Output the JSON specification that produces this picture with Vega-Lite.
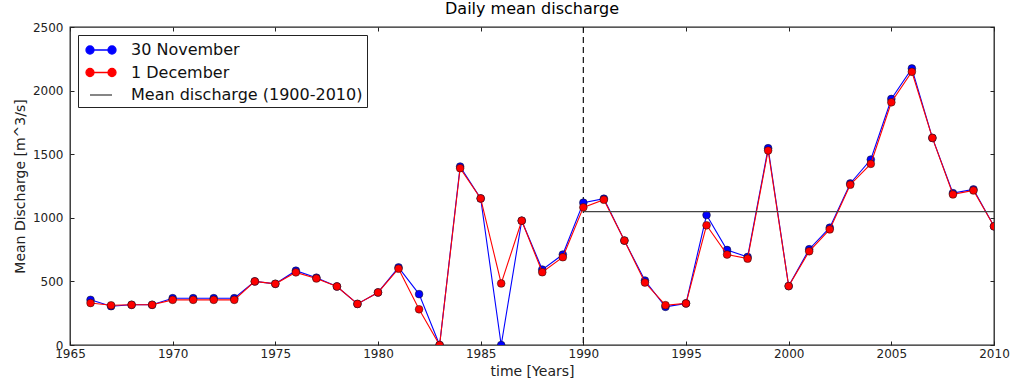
{
  "$schema": "https://vega.github.io/schema/vega-lite/v6.json",
  "width": 924,
  "height": 318,
  "autosize": {"type": "none"},
  "padding": {"left": 70, "top": 27, "right": 20, "bottom": 42},
  "background": "white",
  "title": {
    "text": "Daily mean discharge",
    "font": "DejaVu Sans",
    "fontSize": 16,
    "fontWeight": "normal",
    "color": "black",
    "anchor": "middle",
    "frame": "group",
    "offset": 4
  },
  "config": {
    "font": "DejaVu Sans",
    "view": {"stroke": "#222222", "strokeWidth": 1.3},
    "axis": {
      "grid": false,
      "domain": false,
      "labelFont": "DejaVu Sans",
      "labelFontSize": 12,
      "labelColor": "#222222",
      "labelFlush": false,
      "labelOverlap": false,
      "labelBound": false,
      "tickColor": "#222222",
      "tickSize": -4,
      "tickWidth": 1,
      "titleFont": "DejaVu Sans",
      "titleFontSize": 14,
      "titleFontWeight": "normal",
      "titleColor": "#222222"
    }
  },
  "datasets": {
    "flow": [
      {"year": 1966, "series": "30 November", "q": 355}, {"year": 1966, "series": "1 December", "q": 330},
      {"year": 1967, "series": "30 November", "q": 305}, {"year": 1967, "series": "1 December", "q": 312},
      {"year": 1968, "series": "30 November", "q": 316}, {"year": 1968, "series": "1 December", "q": 316},
      {"year": 1969, "series": "30 November", "q": 316}, {"year": 1969, "series": "1 December", "q": 316},
      {"year": 1970, "series": "30 November", "q": 368}, {"year": 1970, "series": "1 December", "q": 355},
      {"year": 1971, "series": "30 November", "q": 368}, {"year": 1971, "series": "1 December", "q": 355},
      {"year": 1972, "series": "30 November", "q": 368}, {"year": 1972, "series": "1 December", "q": 355},
      {"year": 1973, "series": "30 November", "q": 368}, {"year": 1973, "series": "1 December", "q": 355},
      {"year": 1974, "series": "30 November", "q": 500}, {"year": 1974, "series": "1 December", "q": 500},
      {"year": 1975, "series": "30 November", "q": 481}, {"year": 1975, "series": "1 December", "q": 481},
      {"year": 1976, "series": "30 November", "q": 584}, {"year": 1976, "series": "1 December", "q": 571},
      {"year": 1977, "series": "30 November", "q": 529}, {"year": 1977, "series": "1 December", "q": 523},
      {"year": 1978, "series": "30 November", "q": 460}, {"year": 1978, "series": "1 December", "q": 460},
      {"year": 1979, "series": "30 November", "q": 323}, {"year": 1979, "series": "1 December", "q": 323},
      {"year": 1980, "series": "30 November", "q": 413}, {"year": 1980, "series": "1 December", "q": 413},
      {"year": 1981, "series": "30 November", "q": 610}, {"year": 1981, "series": "1 December", "q": 600},
      {"year": 1982, "series": "30 November", "q": 400}, {"year": 1982, "series": "1 December", "q": 281},
      {"year": 1983, "series": "30 November", "q": 0}, {"year": 1983, "series": "1 December", "q": 0},
      {"year": 1984, "series": "30 November", "q": 1403}, {"year": 1984, "series": "1 December", "q": 1390},
      {"year": 1985, "series": "30 November", "q": 1152}, {"year": 1985, "series": "1 December", "q": 1152},
      {"year": 1986, "series": "30 November", "q": 0}, {"year": 1986, "series": "1 December", "q": 484},
      {"year": 1987, "series": "30 November", "q": 977}, {"year": 1987, "series": "1 December", "q": 977},
      {"year": 1988, "series": "30 November", "q": 593}, {"year": 1988, "series": "1 December", "q": 572},
      {"year": 1989, "series": "30 November", "q": 711}, {"year": 1989, "series": "1 December", "q": 690},
      {"year": 1990, "series": "30 November", "q": 1119}, {"year": 1990, "series": "1 December", "q": 1082},
      {"year": 1991, "series": "30 November", "q": 1150}, {"year": 1991, "series": "1 December", "q": 1142},
      {"year": 1992, "series": "30 November", "q": 821}, {"year": 1992, "series": "1 December", "q": 821},
      {"year": 1993, "series": "30 November", "q": 507}, {"year": 1993, "series": "1 December", "q": 491},
      {"year": 1994, "series": "30 November", "q": 300}, {"year": 1994, "series": "1 December", "q": 313},
      {"year": 1995, "series": "30 November", "q": 327}, {"year": 1995, "series": "1 December", "q": 327},
      {"year": 1996, "series": "30 November", "q": 1022}, {"year": 1996, "series": "1 December", "q": 941},
      {"year": 1997, "series": "30 November", "q": 747}, {"year": 1997, "series": "1 December", "q": 711},
      {"year": 1998, "series": "30 November", "q": 692}, {"year": 1998, "series": "1 December", "q": 679},
      {"year": 1999, "series": "30 November", "q": 1547}, {"year": 1999, "series": "1 December", "q": 1529},
      {"year": 2000, "series": "30 November", "q": 463}, {"year": 2000, "series": "1 December", "q": 463},
      {"year": 2001, "series": "30 November", "q": 753}, {"year": 2001, "series": "1 December", "q": 737},
      {"year": 2002, "series": "30 November", "q": 922}, {"year": 2002, "series": "1 December", "q": 909},
      {"year": 2003, "series": "30 November", "q": 1270}, {"year": 2003, "series": "1 December", "q": 1260},
      {"year": 2004, "series": "30 November", "q": 1458}, {"year": 2004, "series": "1 December", "q": 1424},
      {"year": 2005, "series": "30 November", "q": 1934}, {"year": 2005, "series": "1 December", "q": 1908},
      {"year": 2006, "series": "30 November", "q": 2174}, {"year": 2006, "series": "1 December", "q": 2148},
      {"year": 2007, "series": "30 November", "q": 1628}, {"year": 2007, "series": "1 December", "q": 1628},
      {"year": 2008, "series": "30 November", "q": 1194}, {"year": 2008, "series": "1 December", "q": 1184},
      {"year": 2009, "series": "30 November", "q": 1223}, {"year": 2009, "series": "1 December", "q": 1215},
      {"year": 2010, "series": "30 November", "q": 933}, {"year": 2010, "series": "1 December", "q": 933}
    ],
    "mean": [
      {"year": 1990, "series": "Mean discharge (1900-2010)", "q": 1048},
      {"year": 2010, "series": "Mean discharge (1900-2010)", "q": 1048}
    ]
  },
  "layer": [
    {
      "data": {"values": [{"year": 1990}]},
      "mark": {"type": "rule", "color": "#111111", "strokeWidth": 1.2, "strokeDash": [6, 4]},
      "encoding": {
        "x": {"field": "year", "type": "quantitative", "axis": null}
      }
    },
    {
      "data": {"name": "flow"},
      "transform": [{"filter": "datum.series === '30 November'"}],
      "mark": {
        "type": "line",
        "clip": true,
        "strokeWidth": 1.1,
        "point": {"filled": true, "clip": true, "size": 60, "stroke": "#111111", "strokeWidth": 0.5}
      },
      "encoding": {
        "x": {
          "field": "year",
          "type": "quantitative",
          "scale": {"domain": [1965, 2010], "nice": false, "zero": false},
          "axis": {
            "orient": "bottom",
            "values": [1965, 1970, 1975, 1980, 1985, 1990, 1995, 2000, 2005, 2010],
            "format": "d",
            "labelPadding": 7,
            "title": "time [Years]",
            "titlePadding": 5
          }
        },
        "y": {
          "field": "q",
          "type": "quantitative",
          "scale": {"domain": [0, 2500], "nice": false},
          "axis": {
            "orient": "left",
            "values": [0, 500, 1000, 1500, 2000, 2500],
            "format": "d",
            "labelPadding": 11,
            "title": "Mean Discharge [m^3/s]",
            "titlePadding": 5
          }
        },
        "color": {
          "field": "series",
          "type": "nominal",
          "scale": {
            "domain": ["30 November", "1 December", "Mean discharge (1900-2010)"],
            "range": ["#0000ff", "#ff0000", "#444444"]
          },
          "legend": {
            "title": null,
            "orient": "none",
            "legendX": 8,
            "legendY": 8,
            "direction": "vertical",
            "fillColor": "white",
            "strokeColor": "#222222",
            "padding": 4,
            "cornerRadius": 0,
            "labelFont": "DejaVu Sans",
            "labelFontSize": 16,
            "labelColor": "#111111",
            "labelLimit": 0,
            "labelOffset": 19,
            "symbolSize": 400,
            "symbolOffset": 8,
            "rowPadding": 3.5,
            "encode": {
              "symbols": {
                "update": {
                  "shape": {"signal": "datum.value === 'Mean discharge (1900-2010)' ? 'M-1.1,0H1.1' : 'M-1.1,0H1.1M-1.5,0A0.4,0.4 0 1 0 -0.7,0A0.4,0.4 0 1 0 -1.5,0M0.7,0A0.4,0.4 0 1 0 1.5,0A0.4,0.4 0 1 0 0.7,0'"},
                  "fill": {"signal": "datum.value === 'Mean discharge (1900-2010)' ? 'transparent' : scale('color', datum.value)"},
                  "stroke": {"signal": "scale('color', datum.value)"},
                  "strokeWidth": {"value": 1.3}
                }
              }
            }
          }
        }
      }
    },
    {
      "data": {"name": "flow"},
      "transform": [{"filter": "datum.series === '1 December'"}],
      "mark": {
        "type": "line",
        "clip": true,
        "strokeWidth": 1.1,
        "point": {"filled": true, "clip": true, "size": 60, "stroke": "#111111", "strokeWidth": 0.5}
      },
      "encoding": {
        "x": {"field": "year", "type": "quantitative", "axis": null},
        "y": {"field": "q", "type": "quantitative", "axis": null},
        "color": {"field": "series", "type": "nominal"}
      }
    },
    {
      "data": {"name": "mean"},
      "mark": {"type": "line", "strokeWidth": 1.3},
      "encoding": {
        "x": {
          "field": "year",
          "type": "quantitative",
          "axis": {
            "orient": "top",
            "values": [1965, 1970, 1975, 1980, 1985, 1990, 1995, 2000, 2005, 2010],
            "labels": false,
            "title": null
          }
        },
        "y": {
          "field": "q",
          "type": "quantitative",
          "axis": {
            "orient": "right",
            "values": [0, 500, 1000, 1500, 2000, 2500],
            "labels": false,
            "title": null
          }
        },
        "color": {"field": "series", "type": "nominal"}
      }
    }
  ]
}
